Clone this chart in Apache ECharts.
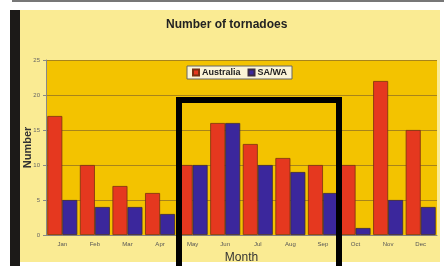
<!DOCTYPE html>
<html><head><meta charset="utf-8">
<script src="https://cdn.jsdelivr.net/npm/echarts@6/dist/echarts.min.js"></script>
<style>html,body{margin:0;padding:0;background:#fff}#c{width:444px;height:266px}</style>
</head><body><div id="c"></div>
<script>
const months = ['Jan','Feb','Mar','Apr','May','Jun','Jul','Aug','Sep','Oct','Nov','Dec'];
const australia = [17,10,7,6,10,16,13,11,10,10,22,15];
const saWa = [5,4,4,3,10,16,10,9,6,1,5,4];
const yTicks = [0,5,10,15,20,25];

const chart = echarts.init(document.getElementById('c'));
chart.setOption({
  animation: false,
  title: {text:'Number of tornadoes', left:161, top:14,
    textStyle:{fontFamily:'Liberation Sans, Arial', fontSize:12, fontWeight:'bold', color:'#222'}},
  legend: {data:['Australia','SA/WA'], left:187, top:66, icon:'rect', itemWidth:6, itemHeight:6, itemGap:7,
    backgroundColor:'#fbf4d6', borderColor:'#666', borderWidth:1, padding:[2,5],
    textStyle:{fontFamily:'Liberation Sans, Arial', fontSize:9, fontWeight:'bold', color:'#222', padding:[0,0,0,-2]}},
  grid: {left:46, right:7, top:60, bottom:31, show:true, backgroundColor:'#f3c300', borderWidth:0,
    outerBoundsMode:'none', containLabel:false},
  xAxis: {type:'category', data:months, name:'Month', nameLocation:'middle', nameGap:17, nameMoveOverlap:false,
    nameTextStyle:{fontFamily:'Liberation Sans, Arial', fontSize:12, color:'#333'},
    axisLine:{lineStyle:{color:'#888'}}, axisTick:{show:false},
    axisLabel:{fontSize:6, color:'#555', margin:6}},
  yAxis: {type:'value', min:0, max:25, interval:5, name:'Number', nameLocation:'middle', nameGap:13, nameMoveOverlap:false,
    nameTextStyle:{fontFamily:'Liberation Sans, Arial', fontSize:11, fontWeight:'bold', color:'#333'},
    axisLine:{show:true, lineStyle:{color:'#888'}}, axisTick:{show:true, length:3, lineStyle:{color:'#888'}},
    axisLabel:{fontSize:6, color:'#666', margin:6, formatter:v=>yTicks.includes(v)?String(v):''},
    splitLine:{lineStyle:{color:'#a8841a', width:1}}},
  series: [
    {name:'Australia', type:'bar', data:australia, barGap:'0%', barCategoryGap:'8%',
      itemStyle:{color:'#e5381f', borderColor:'#7a3010', borderWidth:0.8}},
    {name:'SA/WA', type:'bar', data:saWa,
      itemStyle:{color:'#3b279c', borderColor:'#3a2a40', borderWidth:0.8}}
  ],
  graphic: [
    {type:'rect', z:-100, shape:{x:20, y:10, width:420, height:252}, style:{fill:'#faeb93'}},
    {type:'rect', z:-100, shape:{x:10, y:10, width:10, height:256}, style:{fill:'#1c1a18'}},
    {type:'line', z:-100, shape:{x1:12, y1:1, x2:444, y2:1}, style:{stroke:'#777', lineWidth:2}},
    {type:'rect', z:100, shape:{x:179, y:100, width:160, height:180}, style:{fill:'none', stroke:'#000', lineWidth:6}}
  ]
});
</script></body></html>
